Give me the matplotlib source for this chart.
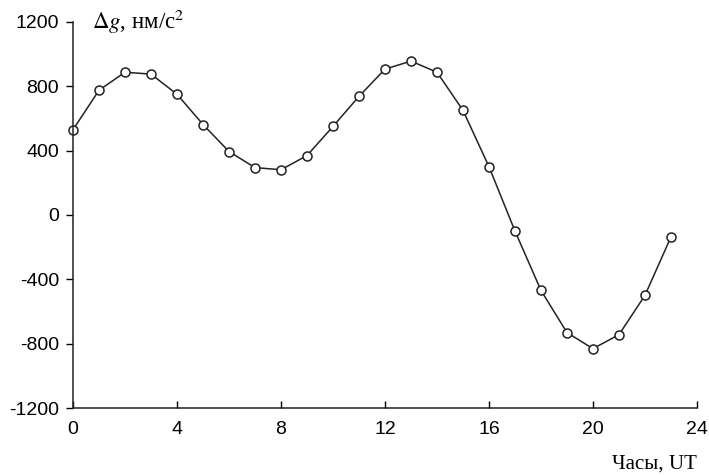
import numpy as np
import matplotlib.pyplot as plt

# Данные: часы (UT) и вариация силы тяжести, нм/с^2
hours = np.arange(0, 24)
dg = [530, 775, 887, 875, 750, 562, 394, 294, 281, 369, 550, 737,
      906, 956, 887, 650, 300, -100, -469, -731, -831, -744, -500, -137]

xticks = [0, 4, 8, 12, 16, 20, 24]
yticks = [-1200, -800, -400, 0, 400, 800, 1200]

plt.rcParams['font.family'] = ['Liberation Sans', 'DejaVu Sans']
plt.rcParams['axes.unicode_minus'] = False

fig = plt.figure(figsize=(7.09, 4.75), dpi=100)
ax = fig.add_axes([0.103, 0.141, 0.880, 0.813])

ax.plot(hours, dg, color='#222222', linewidth=1.1, marker='o', markersize=6.5,
        markerfacecolor='white', markeredgecolor='#222222', markeredgewidth=1.1,
        clip_on=False)

ax.set_xlim(0, 24)
ax.set_ylim(-1200, 1200)
ax.set_xticks(xticks)
ax.set_yticks(yticks)
ax.spines['top'].set_visible(False)
ax.spines['right'].set_visible(False)
for s in ('left', 'bottom'):
    ax.spines[s].set_linewidth(1.1)
    ax.spines[s].set_color('#222222')
ax.tick_params(axis='x', direction='in', length=5, width=1, labelsize=14, pad=9)
ax.tick_params(axis='y', direction='out', length=5, width=1, labelsize=14, pad=5)

ax.text(0.03, 1.0, r'$\Delta g$, нм/с$^2$', transform=ax.transAxes, ha='left', va='center',
        fontsize=16.5, family=['Liberation Serif', 'DejaVu Serif'], math_fontfamily='stix')
ax.text(1.0, -0.145, 'Часы, UT', transform=ax.transAxes, ha='right', va='center',
        fontsize=15, family=['Liberation Serif', 'DejaVu Serif'])

fig.savefig('out.png', dpi=100)
